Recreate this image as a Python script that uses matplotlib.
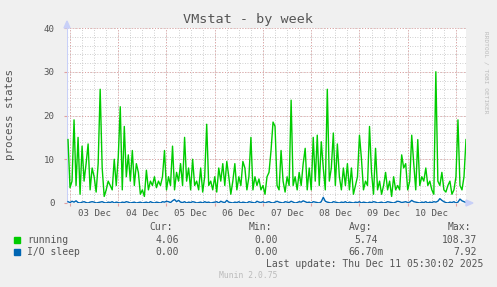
import numpy as np
import matplotlib
matplotlib.use("Agg")
import matplotlib.pyplot as plt

# hours since 03 Dec 00:00, one sample per hour
running = [14.5, 3.5, 5, 19, 4, 15, 2, 13, 5, 9, 13.5, 3, 8, 6, 2.5, 9, 26, 8, 1.5, 3,
           5, 4, 3, 10, 4, 10.5, 22, 3, 17.5, 6, 11, 5, 12, 4, 9, 7, 2, 3, 1.5, 7.5,
           3, 5, 4, 6, 3.5, 5, 4, 6, 12, 3, 6, 4, 13, 3, 7, 5, 9, 4, 15, 5,
           8, 3, 10, 4, 5, 3, 8, 2.5, 6, 18, 4, 5, 3, 6, 2.5, 8, 5, 9, 4, 9.5,
           6, 2, 5, 9, 3, 6, 4, 9.5, 8, 3, 6, 15, 3, 6, 4, 5.5, 3, 4, 2, 6,
           7, 12, 18.5, 17.5, 4, 3, 12, 5, 2.5, 6, 4, 23.5, 4, 6, 3, 7, 4, 9, 12.5, 3,
           8, 3, 15, 5, 15.5, 4, 14, 8, 3, 26, 5, 8, 16, 4, 13.5, 6, 3, 8, 4, 9,
           3, 8, 2, 4, 6, 15.5, 10, 3, 5, 4, 17.5, 7, 2, 12.5, 3, 5, 2, 4, 7, 3,
           5, 1.5, 6, 3, 4, 3, 11, 8, 9, 3, 5, 15.5, 9, 3, 14.5, 4, 6, 5, 8, 4,
           5, 3, 2, 30, 5, 4, 7, 3, 2.5, 4, 5, 2, 3, 6, 19, 4, 3, 6, 14.5]
io_sleep = [0.3, 0.1, 0.4, 0.2, 0.5, 0.1, 0.0, 0.2, 0.3, 0.1, 0.0, 0.2, 0.3, 0.2, 0.0, 0.1, 0.2, 0.3, 0.1, 0.0,
            0.2, 0.1, 0.3, 0.0, 0.2, 0.1, 0.0, 0.2, 0.1, 0.3, 0.2, 0.0, 0.1, 0.2, 0.0, 0.1, 0.2, 0.0, 0.1, 0.2,
            0.0, 0.3, 0.1, 0.0, 0.2, 0.1, 0.0, 0.3, 0.2, 0.4, 0.3, 0.1, 0.5, 0.8, 0.3, 0.6, 0.2, 0.1, 0.3, 0.0,
            0.2, 0.1, 0.3, 0.2, 0.0, 0.1, 0.2, 0.0, 0.3, 0.1, 0.2, 0.0, 0.1, 0.2, 0.3, 0.0, 0.4, 0.2, 0.1, 0.6,
            0.2, 0.1, 0.0, 0.2, 0.1, 0.3, 0.0, 0.2, 0.1, 0.0, 0.3, 0.2, 0.1, 0.0, 0.4, 0.2, 0.1, 0.3, 0.0, 0.2,
            0.3, 0.1, 0.0, 0.2, 0.4, 0.2, 0.1, 0.0, 0.3, 0.2, 0.1, 0.4, 0.2, 0.0, 0.1, 0.3, 0.2, 0.5, 0.3, 0.1,
            0.2, 0.0, 0.3, 0.2, 0.1, 0.0, 0.3, 1.3, 0.4, 0.2, 0.1, 0.0, 0.3, 0.2, 0.1, 0.0, 0.2, 0.1, 0.3, 0.0,
            0.2, 0.1, 0.0, 0.2, 0.1, 0.3, 0.0, 0.2, 0.1, 0.0, 0.2, 0.1, 0.3, 0.2, 0.0, 0.1, 0.2, 0.0, 0.1, 0.3,
            0.2, 0.1, 0.0, 0.2, 0.4, 0.3, 0.1, 0.2, 0.3, 0.1, 0.2, 0.6, 0.3, 0.2, 0.1, 0.0, 0.2, 0.1, 0.3, 0.0,
            0.2, 0.1, 0.3, 0.2, 0.4, 1.0, 0.6, 0.3, 0.1, 0.0, 0.2, 0.1, 0.3, 0.0, 0.2, 0.9, 0.5, 0.3, 0.1]
hours = np.arange(-1, -1 + len(running))
day_labels = ["03 Dec", "04 Dec", "05 Dec", "06 Dec", "07 Dec", "08 Dec", "09 Dec", "10 Dec"]
legend_rows = [("running", "#00CC00", "4.06", "0.00", "5.74", "108.37"),
               ("I/O sleep", "#0066B3", "0.00", "0.00", "66.70m", "7.92")]

W, H = 497, 287
plt.rcParams['font.family'] = 'DejaVu Sans Mono'
fig = plt.figure(figsize=(W / 100, H / 100), dpi=100, facecolor="#F0F0F0")
ax = fig.add_axes([67 / W, 84 / H, 399 / W, 175 / H], facecolor="white")

def ftext(x, y, s, **kw):
    fig.text(x / W, 1 - y / H, s, **kw)

xmin, xmax = -1.5, 197.0
for h in np.arange(-0, 198, 6):
    ax.axvline(h, color="#C0C0C0", lw=0.6, ls=(0, (1, 2)), zorder=0)
for v in np.arange(0, 41, 2):
    ax.axhline(v, color="#C0C0C0", lw=0.6, ls=(0, (1, 2)), zorder=0)
for h in np.arange(0, 198, 24):
    ax.axvline(h, color="#E0A0A0", lw=0.7, ls=(0, (1, 2)), zorder=0.5)
for v in np.arange(0, 41, 10):
    ax.axhline(v, color="#E0A0A0", lw=0.7, ls=(0, (1, 2)), zorder=0.5)

ax.plot(hours, running, color="#00CC00", lw=1.0, zorder=3)
ax.plot(hours, io_sleep, color="#0066B3", lw=1.0, zorder=4)

ax.set_xlim(xmin, xmax)
ax.set_ylim(0, 40)
for s in ax.spines.values():
    s.set_visible(False)
ax.axhline(0, color="#A8B8F0", lw=0.8, zorder=2)
ax.axvline(xmin, color="#C8D0F8", lw=0.8, zorder=2)

ax.set_xticks(np.arange(0, 198, 24))
ax.set_xticklabels([])
ax.tick_params(axis="x", which="major", length=2, color="#E0A0A0")
ax.set_xticks(np.arange(12, 198, 24), labels=day_labels, minor=True)
ax.tick_params(axis="x", which="minor", length=0, pad=4, labelsize=6.6, labelcolor="#555555")
ax.set_yticks(np.arange(0, 41, 10))
ax.tick_params(axis="y", length=2, color="#E0A0A0", pad=7, labelsize=6.6, labelcolor="#555555")

# axis arrows
fig.patches.append(plt.Polygon([[64 / W, 1 - 28 / H], [70 / W, 1 - 28 / H], [67 / W, 1 - 21 / H]],
                               closed=True, color="#C8D0F8", transform=fig.transFigure))
fig.patches.append(plt.Polygon([[466 / W, 1 - 200 / H], [466 / W, 1 - 206 / H], [473 / W, 1 - 203 / H]],
                               closed=True, color="#C8D0F8", transform=fig.transFigure))

ftext(248, 19, "VMstat - by week", ha="center", va="center", fontsize=9.7, color="#555555")
ftext(10, 115, "process states", ha="center", va="center", rotation=90, fontsize=7.8, color="#555555")
ftext(486, 72, "RRDTOOL / TOBI OETIKER", ha="center", va="center", rotation=-90, fontsize=4.4, color="#BBBBBB")

# legend block
cols = [179, 278, 378, 477]
heads = ["Cur:", "Min:", "Avg:", "Max:"]
for c, hd in zip(cols, heads):
    ftext(c - 6, 227, hd, ha="right", va="center", fontsize=7, color="#555555")
for i, row in enumerate(legend_rows):
    y = 240 + 12 * i
    fig.patches.append(plt.Rectangle((14 / W, 1 - (y + 3) / H), 6 / W, 6 / H, color=row[1],
                                     transform=fig.transFigure))
    ftext(27, y, row[0], ha="left", va="center", fontsize=7, color="#555555")
    for c, val in zip(cols, row[2:]):
        shift = 6 if val.endswith("m") else 0
        ftext(c + shift, y, val, ha="right", va="center", fontsize=7, color="#555555")
ftext(483, 264, "Last update: Thu Dec 11 05:30:02 2025", ha="right", va="center", fontsize=7, color="#555555")
ftext(248, 276, "Munin 2.0.75", ha="center", va="center", fontsize=5.8, color="#BBBBBB")

fig.savefig("out.png", dpi=100, facecolor=fig.get_facecolor())
